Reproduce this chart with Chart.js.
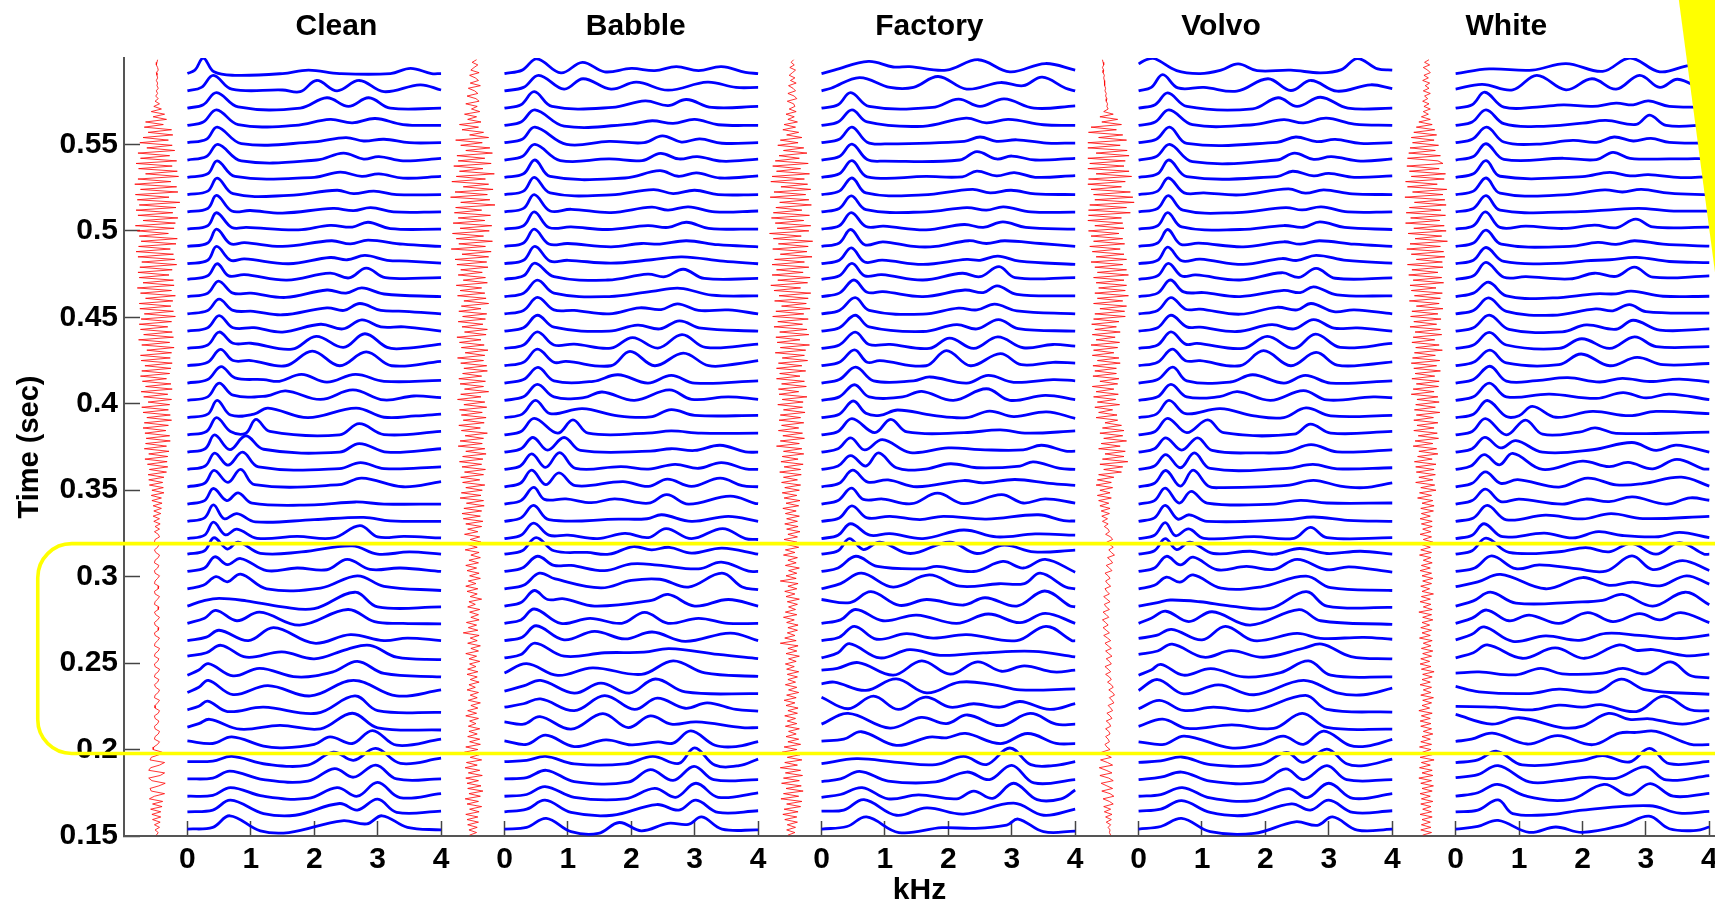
<!DOCTYPE html>
<html><head><meta charset="utf-8"><title>Formant tracks</title>
<style>html,body{margin:0;padding:0;background:#fff}canvas{display:block}</style>
<script src="https://cdn.jsdelivr.net/npm/chart.js@4"></script></head>
<body><canvas id="c" width="1715" height="903"></canvas>
<script>
const panelNames=['Clean','Babble','Factory','Volvo','White'];
const panelTitleAt=[2.35,7.07,11.7,16.3,20.8];
const panelZero=[0,5,10,15,20];
const waveCentre=[-0.48,4.51,9.53,14.51,19.54];
const kHzTicks=[0,1,2,3,4,5,6,7,8,9,10,11,12,13,14,15,16,17,18,19,20,21,22,23,24];
const timeTicks=[0.15,0.2,0.25,0.3,0.35,0.4,0.45,0.5,0.55];
// frame times, top row first (seconds)
const rowTimes=[.591,.581,.571,.561,.551,.541,.531,.521,.511,.501,.491,.481,.472,.462,.452,.442,.432,.422,.412,.402,.392,.382,.372,.362,.352,.342,.332,.322,.313,.303,.293,.283,.273,.263,.253,.243,.233,.223,.213,.203,.193,.183,.173,.164,.154];
// each row: frequency (x 10 Hz), spectrum height (ms of the time axis), repeated
const cleanRows=[
[0,0,12,2,25,9,42,1,75,-1,150,0,191,2,240,0,320,0,352,3,385,0,400,0],
[0,0,22,2,41,9,70,1,150,.5,178,-.5,204,6,236,0,271,6,310,-.5,367,3.5,400,.5],
[0,0,25,2,46,9,80,.7,178,0,220,6,254,1,286,6,320,0,400,0],
[0,0,25,2,46,9,80,.5,170,0,225,3.5,260,1.5,296,4,340,.5,400,0],
[0,0,30,2,47,9,85,-.5,200,.5,250,3,278,1,310,2,350,0,400,0],
[0,0,30,2,48,9,85,-.5,204,0,246,4,278,.5,302,2,340,-.5,400,1],
[0,0,32,2,47,9.5,75,.5,200,0,241,3,275,.5,302,2,340,-.5,400,.5],
[0,0,32,2,47,9.5,72,.5,160,-.5,236,2.5,262,.5,294,2,330,0,400,0],
[0,0,32,2,46,9.5,70,.5,99,.8,150,-.7,230,2,262,.7,289,2.5,325,0,400,0],
[0,0,32,2,46,9.5,70,1,93,1,175,-.4,225,2.2,260,1.2,285,4,320,.3,400,0],
[0,0,32,2,46,10,68,1.5,90,2.2,150,0,227,3.3,257,1.5,285,3.6,340,1.3,400,0],
[0,0,32,2,46,10,68,2,90,2.8,160,0,225,3.6,252,2.3,280,4.8,315,2,347,1.5,400,.3],
[0,0,32,2,47,9,65,2,90,2.7,157,-.5,225,3.6,255,.8,282,6.5,312,1,400,1],
[0,0,32,2,49,9,72,2,100,2,155,-.5,220,3.8,250,2,275,5,310,1.5,400,0],
[0,0,32,2,50,8.5,72,2,104,1.5,150,-.5,220,3.5,247,2,272,6,305,2,342,1.5,400,0],
[0,0,32,2,50,9,72,2,105,2,150,-.5,210,4,245,1.3,275,6.5,305,2.5,342,2.5,400,0],
[0,0,32,2,50,9.5,72,3,100,3,165,-.4,203,7,246,.6,280,8.5,315,.6,340,0,400,2.5],
[0,0,32,2,52,9.5,72,3,100,3,155,0,197,8.5,240,0,282,8,322,0,400,2.5],
[0,0,32,2,53,9.5,75,3,120,2,145,1,180,5,220,.5,265,5,310,1,400,1.5],
[0,0,32,2,50,10,72,3,125,2.5,155,5.5,210,.5,261,6,310,.2,357,2.5,400,1.5],
[0,0,32,2,47,10,68,1.5,105,2,127,5.5,190,0,266,5.5,310,.2,360,1,400,2],
[0,0,30,2,46,10,68,2,92,1,108,9,130,2,240,0,271,6.5,310,.2,400,2],
[0,0,28,2,43,10,67,1.5,92,9.5,120,1.7,240,0,271,5,315,0,400,2],
[0,0,28,2,43,9.5,64,2.5,87,10,112,1.5,240,.5,273,4,310,.5,400,1.5],
[0,0,27,2,42,9.5,64,2.5,84,10,106,1.2,240,1.2,275,5,340,0,400,3],
[0,0,27,2,41,9,62,2,80,6.5,102,.5,200,-.5,265,1.2,310,0,400,0],
[0,0,27,2,41,9.5,58,1.5,78,4.5,107,-.3,200,1,278,2.3,320,.3,400,0],
[0,0,27,2,41,9.5,60,2.2,78,5.5,110,.2,173,1.3,230,.4,272,7.5,300,1,342,1.3,400,.4],
[0,0,27,2,42,9.5,63,3,80,7,115,.5,180,1.3,260,4.8,300,0,350,1.3,400,0],
[0,0,27,2,43,8.5,63,4,84,7.5,125,.5,173,2,220,1,252,7,288,1.2,336,2,400,0],
[0,0,25,2,45,7,63,4,84,8.5,125,0,210,.4,268,7.5,310,1.4,400,-1],
[0,0,25,3,50,4.5,93,3,150,-.5,200,-1.5,264,8,300,-.5,400,-.5],
[0,0,27,3,45,7.5,78,1.5,114,6.5,177,-1,253,8,295,1,340,0,400,-.3],
[0,0,30,2,50,6,96,0,136,7.5,200,-1.5,257,3.5,310,0,347,1.5,400,0],
[0,1,30,3,53,7.3,93,.4,149,3.5,200,-.5,252,5,288,7.3,330,.4,400,-1],
[0,0,18,3,33,6.7,72,-.4,114,4,173,-1,230,2,268,8,310,1,400,-1],
[0,0,18,3,33,7,72,-1.2,127,4,194,-2,262,7,330,-2,400,1.5],
[0,0,18,2,32,5,63,-1,120,1.5,204,-2,264,8,300,-.5,400,-1.5],
[0,0,18,2,35,4.5,83,-1.2,146,1,210,-1,260,8,300,-.4,400,-1.7],
[0,2,40,.5,70,4.3,120,-1,150,-2,200,0,225,4.3,260,.5,292,8,330,-.5,400,3],
[0,0,40,.3,70,3,125,-1.5,190,-2,230,5.5,262,.8,297,7.7,336,-1,400,2],
[0,0,40,.5,67,4.5,120,-.4,190,-1.3,232,6,262,1,297,8,330,0,400,0],
[0,0,40,.5,68,5,120,0,190,-1.3,236,5,268,0,300,8,335,-.8,400,1.5],
[0,0,40,1,68,6.7,120,-1,170,-2,240,4.8,268,1,300,7.3,330,-.3,400,.4],
[0,0,40,1,67,7.7,115,-1,160,-2,244,4.8,283,3,307,7.7,347,1,400,-.5]];
const babbleRows=[
[0,0,28,2,51,8.5,89,.4,123,6.5,158,1,200,3,237,1.7,271,4,306,1.7,342,4,380,.7,400,0],
[0,0,30,2,54,9,94,1,124,7,168,1,208,5,258,.4,320,5,365,2,400,2],
[0,0,26,2,47,9.5,75,1,170,.4,222,4.2,258,1.5,287,5,327,.4,400,1],
[0,0,26,2,48,9,94,-.4,200,.8,233,2.7,266,1.2,300,3.5,337,.4,400,0],
[0,0,28,2,48,9,98,-1,165,.8,220,0,249,4,279,.4,308,2.2,343,-.3,400,0],
[0,0,28,2,48,9,88,-.3,165,.6,217,-.3,246,3.8,275,.6,304,2,343,-.7,400,.5],
[0,0,30,2,48,10,72,.5,190,-.4,245,3.8,274,.6,303,2.5,340,-.4,400,.8],
[0,0,30,2,47,10,72,1,168,-.2,235,2.9,266,.6,300,2.5,337,0,400,0],
[0,0,30,2,47,10,72,.5,105,1.5,168,-.4,232,2.7,258,1,290,2.9,332,0,400,.5],
[0,0,30,2,47,10,70,1,105,1.3,163,-.2,226,2,258,1,287,4,322,.5,400,0],
[0,0,30,2,47,10,70,1.4,100,1.7,168,-.2,216,1.7,245,1.4,287,3.3,337,1,400,-.2],
[0,0,30,2,48,10,72,1.5,100,2,168,.3,232,2.3,280,4,345,1.5,400,0],
[0,0,30,2,48,9.3,78,1.5,163,-.4,226,3,253,1.5,282,5.8,315,.5,400,.5],
[0,0,30,2,52,9.5,78,2,165,0,232,3,277,4.8,327,.8,400,.4],
[0,0,30,2,52,9.5,78,2.3,110,2,165,0,213,3.5,247,2.5,273,5.8,306,2,353,2.3,400,0],
[0,0,30,2,52,9.2,78,2.3,165,0,210,3.5,245,1.3,276,6,310,1.7,400,0],
[0,0,30,2,52,9.6,78,2,110,2.5,168,.2,202,6.3,242,.2,280,8,317,.6,400,2.5],
[0,0,30,2,52,9.6,78,2,97,2.5,168,0,198,8.3,237,0,282,7.3,322,0,365,1,400,3],
[0,0,30,2,53,9,78,1.3,140,1,179,4.8,226,0,263,4.4,300,0,400,1.3],
[0,0,30,2,52,9.2,78,2,125,1.5,154,4.8,205,0,260,6,295,.6,353,2,400,.6],
[0,0,28,2,49,10,72,2.3,123,5.2,179,1,230,.4,263,4.6,300,1.3,400,1.3],
[0,0,26,2,47,9.6,84,1,108,8.7,132,1,225,1,263,2.3,310,1,400,1],
[0,0,26,2,45,8.5,68,1.2,94,8.5,120,1,230,.6,263,2,300,1,340,4,380,.2,400,0],
[0,0,25,2,43,9,65,1.2,87,9.8,112,.7,184,1.7,227,.2,269,3,306,.7,342,4,380,.4,400,0],
[0,0,25,2,43,9.6,65,1.2,86,8,112,.6,187,3,227,.2,257,4.4,295,.2,340,5,375,.6,400,0],
[0,0,26,2,46,9.6,63,2.7,97,3,137,.8,174,3,227,.5,256,5.4,290,0,356,4.6,395,.4,400,.2],
[0,0,26,2,46,9.2,70,1,180,1.3,225,1.5,248,3.8,295,0,353,2.9,400,0],
[0,0,26,2,46,9,70,2,100,2,147,0,190,3,227,.6,255,5.8,295,0,344,5.8,380,0,400,-.5],
[0,0,28,2,50,9.6,78,2,130,1,165,0,203,4.4,232,2.5,260,4,295,.6,343,3.5,400,0],
[0,0,28,2,52,8.8,78,3.5,105,3.5,158,.5,200,4.4,242,3.7,306,1.5,342,5.4,385,.2,400,0],
[0,0,30,2,55,9,80,5.7,152,.5,200,4.8,245,5.5,290,1,343,9,375,1,400,-.5],
[0,0,26,2,47,9,68,3.8,94,4.2,142,0,232,3.3,258,6.7,300,0,353,3.8,400,0],
[0,0,26,2,47,8.3,89,0,135,2.9,185,0,221,6.3,258,0,306,2.9,353,0,400,0],
[0,0,28,2,50,8.6,94,.5,142,5.4,190,1,233,5,285,-.4,356,4.4,400,0],
[0,0,26,2,48,8.6,94,1,158,3,220,3.3,260,5.4,337,2,400,-.4],
[0,1.3,35,6.7,84,-.1,139,4.3,216,.5,266,8.3,316,1.3,400,-.7],
[0,.8,30,3.8,57,7,110,-.4,152,5.4,197,-.4,238,7.8,285,.3,400,-.7],
[0,1.5,30,3.5,57,6.3,110,-.5,158,8.2,205,.2,241,6.7,285,.9,320,4,365,.2,400,-.8],
[0,3,30,1.7,56,6,105,-1.2,155,7.8,195,-.3,230,6.5,263,1.7,303,3,375,-.3,400,-.3],
[0,2,35,0,65,5.3,110,-1.3,160,2.6,200,-.3,242,1.4,266,.7,294,7.8,332,-.5,365,-1.3,400,1.6],
[0,0,35,.8,65,3,110,-1.3,190,-1.3,234,3,275,-1,300,8,332,-2,370,-2.3,400,1.5],
[0,0,35,.8,66,5,110,-1.5,195,-1.9,230,5.4,266,-.8,299,7.3,330,-.4,400,-.4],
[0,0,35,1,64,5.6,110,-.6,190,-1.5,237,4.6,270,-.6,302,7.5,337,-.6,400,2],
[0,0,35,1.5,64,6.7,105,-.4,170,-2,240,4.2,275,1,302,6.7,337,-.4,400,.6],
[0,0,35,1,66,6.2,105,-1.5,148,-2.5,181,3.8,216,-1,258,3.3,290,2.7,311,7,343,0,400,-.5]];
const factoryRows=[
[0,0,20,2,74,7,113,3.8,139,4,197,2,247,8,297,1,353,5.8,400,2],
[0,0,15,1.5,60,7.7,108,2,145,2,184,8.3,229,1,282,4.8,318,3,348,7.9,385,1.5,400,0],
[0,0,26,2,46,9,75,1,175,.4,216,5.2,250,1,288,5.4,335,0,400,1.3],
[0,0,26,2,48,9,72,2,160,-.5,228,4.2,260,1.5,295,3.5,350,.4,400,0],
[0,0,28,2,48,9,72,.3,100,-.7,225,.8,250,3.3,276,.8,308,1.7,355,-.2,400,-.2],
[0,0,28,2,48,9.2,72,.3,100,-.6,218,0,245,4.8,276,.6,300,2.3,337,0,400,1],
[0,0,28,2,48,9.6,72,.3,165,.5,222,.3,245,3.6,276,.8,304,2.7,337,0,400,1],
[0,0,28,2,48,9.6,70,1,160,-.2,238,3,266,1,299,2.5,337,.4,400,0],
[0,0,28,2,47,9.2,70,1.3,165,0,229,2.5,260,1,287,2.9,330,0,400,-.2],
[0,0,28,2,47,9.6,70,1.5,98,1.7,165,-.4,225,2.7,255,1,286,4.2,322,1,400,0],
[0,0,28,2,46,9.8,68,1,97,2.7,145,0,180,0,232,3.3,260,1.7,289,3.3,345,1.7,400,0],
[0,0,28,2,47,9.2,68,1,96,2.1,160,-.4,229,2.5,250,2,278,4.4,312,1.5,400,-.4],
[0,0,28,2,48,9.2,68,2,95,2.7,160,-.4,222,3.5,250,1.5,280,7.3,305,1,400,1],
[0,0,28,2,51,9.6,72,2.5,97,2.9,160,0,226,3.8,255,2.3,277,6.2,308,1.3,400,.4],
[0,0,28,2,53,9.4,75,2,160,-.2,216,3.3,245,2.3,273,5.6,308,1.7,400,0],
[0,0,28,2,53,9.2,75,2.5,160,-.2,213,3.8,245,1.3,279,6.7,310,1.5,400,0],
[0,0,28,2,53,9.4,75,2.3,108,2.3,170,0,202,6,240,0,278,6.7,318,.4,365,2.3,400,1.3],
[0,0,28,2,52,9.2,72,2,92,3,165,0,197,8.8,235,0,282,7,315,.6,365,2,400,1.5],
[0,0,28,2,54,9.2,82,1.3,145,1.3,171,3.5,229,0,263,4.4,303,.4,365,2,400,1.3],
[0,0,28,2,52,9,75,2,128,2,158,5.2,208,0,260,6.7,297,0,353,2.9,400,.4],
[0,0,28,2,50,9.6,70,2.5,92,1.3,120,4.4,176,1.3,229,0,265,3.8,303,.6,355,3.3,400,-.4],
[0,0,26,2,48,9.4,84,1.3,109,9,135,1.7,225,1.3,282,2.9,325,1,400,2.3],
[0,0,26,2,46,8.3,68,1.3,96,7.3,140,-.2,200,2.5,250,1.5,318,1.3,347,4,385,.6,400,.6],
[0,0,26,2,46,8,70,2,90,9.6,118,1,160,0,203,3.3,245,1,313,2,334,4.4,376,.6,400,0],
[0,0,28,2,49,9.6,73,2.7,105,4,150,0,224,3.6,255,2.3,305,4.2,360,2,400,.8],
[0,0,26,2,47,9.2,66,2.7,97,2.9,142,.2,183,6.3,224,.2,284,5.4,318,.6,353,3,400,.6],
[0,0,28,2,48,9,72,2,108,2.9,155,1,192,2.9,260,1.3,342,3.8,382,.4,400,.2],
[0,0,26,2,46,8.6,76,2,108,2.9,160,0,224,5,276,1,337,2.7,400,2],
[0,0,26,2,44,9,66,2.7,92,7,140,.4,202,7,245,.4,288,5.2,335,1.3,400,2.3],
[0,0,26,2,54,8.8,88,2.9,160,1.5,182,3,240,0,286,5.8,318,2,353,7,400,-.4],
[0,0,30,3,63,9,113,1,170,8,218,1.5,280,2.9,320,3,345,9,385,1,400,0],
[0,3.8,45,2,78,8.3,123,.4,166,3.8,224,.6,258,4.8,308,0,352,8.7,392,0,400,-.4],
[0,0,30,2,54,8,97,1.5,150,4.8,213,0,263,5.4,313,.4,353,5.8,400,0],
[0,0,28,2,52,8.3,87,.8,134,4,176,1.5,229,3.5,308,0,354,8.3,395,0,400,0],
[0,0,26,3,44,8.3,92,0,139,4.8,187,1.5,255,2.9,334,3.8,400,.6],
[0,2.9,25,4,58,7.3,113,0,158,8.3,203,.6,246,7.7,284,2.3,320,5.4,366,1.9,400,2.9],
[0,5,20,6,70,1.2,118,7.9,166,-.2,218,6,270,4.6,313,1.5,400,2.1],
[0,7.3,42,.6,82,7.9,121,.2,164,7.3,203,1.5,240,3.5,282,1.5,313,4.8,360,.2,400,3.5],
[0,1.7,42,7.9,108,-.6,157,5.6,197,2,230,7,282,.8,329,7.9,370,1.7,400,1.7],
[0,1.9,35,3,63,7.3,118,-.6,170,4.2,197,3.8,227,6.3,282,.4,325,6.3,370,.6,400,.4],
[0,-1.2,55,1.7,120,-.4,180,-1.7,224,3,260,-1.7,297,7.9,330,-1.7,365,-2.3,400,0],
[0,-1.5,30,0,60,4.4,105,-1.2,180,-1.7,229,4,265,-.4,300,7.9,335,-2.3,400,-.4],
[0,-.6,30,1,64,5,105,-1.5,153,.8,213,-1.5,240,3,270,-1.2,303,7.5,340,-2,378,-1.5,400,3.6],
[0,.4,35,1,67,7,118,-2,166,2.3,224,-1.3,303,5,350,-2,400,1.5],
[0,0,40,1.5,71,7,122,-2,190,.8,240,.4,292,2.3,310,5.8,350,-1.5,400,-1.2]];
const volvoRows=[
[0,5.6,12,8,25,8.7,60,1.7,97,0,130,2,157,5.6,187,1.7,240,2,287,.4,320,2.3,345,8.7,377,2.7,400,2],
[0,0,20,2,38,9.4,62,1.7,103,2,155,-.2,204,7,240,.2,272,6,313,-.2,366,3.5,400,1.3],
[0,0,26,2,46,8.8,76,1,180,-.4,220,6,250,1,287,6.3,330,0,400,0],
[0,0,26,2,48,9,85,.4,180,.4,229,3.3,260,1.5,296,4.2,340,.8,400,0],
[0,0,28,2,49,9,76,-.4,218,.2,248,3.3,281,.6,310,1.9,350,-.4,400,0],
[0,0,28,2,49,9,85,-1,218,0,246,4,276,.4,304,1.9,350,-.6,400,.6],
[0,0,30,2,48,10,76,.4,218,.4,243,3.5,276,.8,300,2.3,340,0,400,.8],
[0,0,30,2,47,9.6,72,1,103,1,160,-.2,236,3.3,263,.8,292,2.7,337,.4,400,0],
[0,0,30,2,47,9.4,70,1,155,-.4,232,2.5,258,1.1,288,2.9,330,0,400,0],
[0,0,30,2,46,9.6,68,1.3,160,-.2,229,2.1,260,1.1,286,4.2,325,1,400,-.2],
[0,0,30,2,46,9.8,66,1.3,95,1.9,165,-.2,229,2.7,255,1.3,285,3.3,340,1.3,400,0],
[0,0,30,2,46,9.6,68,1.7,97,2.7,165,-.4,226,3,250,1.9,280,4.8,328,1.9,400,.4],
[0,0,30,2,47,9.2,68,1.9,90,2.5,160,-.4,226,3.8,253,1.1,280,6.3,310,.6,400,.8],
[0,0,30,2,50,9.6,71,2.7,103,2.3,160,0,229,3.6,255,2.3,276,5.6,313,1,400,.4],
[0,0,30,2,51,9.4,74,2.7,97,2.7,160,-.2,218,3.8,250,2.3,272,6,308,1.3,340,2.3,400,0],
[0,0,30,2,51,9.2,76,2.5,97,2.3,155,-.2,210,3.8,245,1.3,276,6.7,308,1.7,345,1.9,400,0],
[0,0,30,2,51,9.6,74,2.5,92,2.9,165,0,203,7,245,0,279,8.3,318,.6,400,2.9],
[0,0,30,2,53,9.6,74,2.9,97,2.9,160,0,197,8.7,240,0,280,7.7,313,.4,370,1,400,2.3],
[0,0,30,2,54,9.2,76,1.3,145,.6,180,4.8,229,0,263,4.4,303,0,400,1.3],
[0,0,30,2,51,9.2,76,2,128,2.1,156,5,208,0,260,5.6,297,.2,370,2,400,1.5],
[0,0,28,2,48,10,74,2.3,129,5.2,182,1,229,0,264,5.6,303,1,400,1.3],
[0,0,26,2,46,9.6,76,1.3,109,8.7,134,1.3,245,.4,271,6.2,303,1,400,2],
[0,0,25,2,43,8.3,68,1.2,93,8.3,116,1,192,-.4,234,.2,272,4.4,313,.2,400,1.3],
[0,0,25,2,43,8.6,66,1,88,9.6,113,.6,234,.6,275,2.9,313,.4,400,1],
[0,0,25,2,43,9.4,66,.4,86,9.6,110,.4,130,-.5,234,.8,276,3.7,318,.4,355,-.5,400,2.3],
[0,0,25,2,42,9.2,64,.6,83,7.3,108,.6,213,0,255,2.1,297,.6,400,.6],
[0,0,25,2,42,9.2,62,1.3,80,3.8,108,0,234,1,276,2.5,330,.6,400,0],
[0,0,25,2,42,9.2,58,1.7,79,5.6,103,.2,182,1.2,245,.2,271,6.5,297,.6,400,.6],
[0,0,25,2,42,9,60,2.7,81,7,118,.4,176,1.7,213,0,254,3.3,297,.4,350,1.7,400,0],
[0,0,25,2,44,8.8,66,3.8,86,8.3,124,1,170,2.9,213,1.2,250,7,297,1,332,2.7,400,-.4],
[0,0,25,2,44,6.7,65,3.8,86,8,130,.4,192,1,264,7.3,303,.6,400,-1],
[0,0,30,2,50,3.5,97,2.5,145,0,208,-1.3,264,8.3,297,0,400,-.8],
[0,0,20,3,43,7,79,1,116,6.7,176,-1,253,7.9,287,1.5,400,-.6],
[0,1.3,28,3,52,6.5,100,.4,137,8.3,182,0,250,4.2,287,1.3,355,1.9,400,.8],
[0,2.1,30,4,53,8,103,.4,146,4.2,197,.4,260,5.6,289,8,335,.8,400,-.6],
[0,0,20,3,35,6.3,71,0,114,3.8,166,-1,224,1.5,268,8.3,303,0,400,-1],
[0,1.2,30,7.5,71,-.8,126,4.4,182,-1.3,260,7,313,-.2,355,-1.3,400,2.5],
[0,.6,33,5.4,71,-.4,118,1.5,182,-.4,263,8.3,297,.2,400,-1.3],
[0,.4,38,4.6,77,-.8,147,1.3,213,-.8,258,7.9,297,-.2,400,-1.2],
[0,1.5,40,0,72,4.8,145,-2,192,0,228,4.8,260,0,292,7.7,333,-.6,360,-1,400,2.9],
[0,-.4,35,.4,68,2.7,113,-1.7,192,-1.7,233,5.4,260,-.4,297,7.3,328,-1.2,355,-2.3,400,1.5],
[0,-.4,35,1,68,4,113,-1.3,192,-1.9,232,5.8,260,-.4,297,7.7,328,-.4,400,-.4],
[0,0,35,1,69,5,113,-1,182,-2.5,236,4.4,266,-.8,300,7.5,338,-1.2,400,1.5],
[0,.4,35,1.5,68,6.5,113,-.4,171,-2,241,4.6,271,1,300,6.7,338,-.4,400,.6],
[0,0,35,1.5,68,6.2,113,-1.5,182,-2.5,247,4.2,282,2.2,306,7,345,-.6,400,0]];
const whiteRows=[
[0,0,53,2.7,121,2,174,5.8,232,1.3,275,9,322,1,369,4.6,400,3],
[0,1,42,3.8,90,.6,128,9,174,.6,215,7,253,1,290,9,322,2,350,6.7,390,.6,400,0],
[0,0,26,2,46,9.2,76,.6,128,.6,170,1.9,216,1,253,2.9,280,1.9,304,4.2,337,1,400,.6],
[0,0,26,2,48,9,76,1,128,-.6,200,1.3,237,2.9,285,.6,306,6,332,0,400,.4],
[0,0,26,2,49,9,76,.4,128,-.8,185,1.3,222,.2,250,3.3,280,1,308,2.5,337,.2,400,-.2],
[0,0,28,2,48,9.4,76,.4,170,1,222,.2,248,4.4,275,1,337,.6,400,1],
[0,0,28,2,48,9.6,70,.6,200,.4,243,2.9,275,.8,304,1.5,355,-.2,400,.4],
[0,0,28,2,48,9.6,70,.8,170,-.2,235,2.7,263,1.5,293,3,337,.8,400,-.2],
[0,0,28,2,48,9.4,70,1,180,0,237,1,275,1.9,300,1.9,337,.6,400,.4],
[0,0,28,2,47,10,70,1,111,1.7,170,.4,219,2.3,253,.8,284,5.8,311,1.3,400,1.2],
[0,0,28,2,48,9.4,72,1.3,180,0,224,2.3,253,1.2,282,3.3,327,1.3,400,.2],
[0,0,28,2,48,9.4,76,1.3,170,.4,205,1.7,243,2.3,285,3.7,337,1.3,400,.6],
[0,0,28,2,48,9.8,76,1.2,111,1.5,180,.2,219,3.5,253,1.7,282,7,311,1.2,400,2],
[0,0,28,2,52,8.3,80,.4,153,-.8,221,1.6,253,1.6,277,3.2,327,.2,400,.2],
[0,0,28,2,52,9.2,80,1.4,153,-.8,221,2.9,248,1.8,274,5.4,300,1.3,400,.4],
[0,0,28,2,53,9.3,84,1.1,168,-.4,206,3.6,253,1.1,280,6.3,322,.6,400,1.3],
[0,0,28,2,53,9.3,80,2,163,0,199,5.6,243,0,282,6.7,316,1.1,400,1.1],
[0,0,28,2,54,9,80,1.6,163,.6,198,6.8,243,0,286,4.8,327,.6,400,1.3],
[0,0,28,2,54,9.7,80,1.1,128,1.4,177,3.1,227,.6,263,2.7,306,.9,353,2.3,400,.6],
[0,0,28,2,53,9.9,80,2,148,3.6,222,1.1,264,4.5,300,1.4,337,3.6,400,.4],
[0,0,28,2,50,9.9,80,.6,100,1.1,121,6.5,158,.2,216,3.6,274,1.1,316,3.6,400,2.3],
[0,0,26,2,47,9.4,80,0,110,8.6,137,.4,195,1.6,220,4.1,253,.9,400,1.6],
[0,0,26,2,46,8.6,71,2.5,95,6.7,137,0,216,1.4,278,5.6,316,1.1,348,4.1,400,0],
[0,0,24,2,45,8.6,69,2.7,90,9.3,137,0,200,4.8,242,1.6,272,4.1,311,.4,349,5.8,390,.4,400,.2],
[0,0,26,2,47,8.6,71,2,98,4.1,163,-.2,208,5,253,1.1,295,1.8,356,5.6,400,.4],
[0,0,26,2,47,8.6,71,1.4,100,2.9,168,0,205,2.9,242,1.4,279,4.1,332,0,370,3.6,400,2.2],
[0,0,28,2,50,9.2,80,.9,142,3.6,200,1.4,245,4.5,295,1.6,400,2.9],
[0,0,26,2,45,8.6,74,1.1,140,3.2,185,.4,225,4,263,1.8,320,1.1,353,3.6,400,.6],
[0,0,26,2,48,9.3,84,1.1,163,1.4,205,3.8,242,1.4,277,6.3,316,0,353,6.7,392,0,400,0],
[0,0,30,2,57,9,95,1.6,132,3.8,190,1.6,237,.2,278,9,311,1.1,358,6.3,400,.6],
[0,1.2,35,4,71,8.3,142,0,200,6.5,242,2,279,3.8,322,1.7,364,7.5,400,2.7],
[0,0,28,3,55,8,95,1.7,190,2.3,232,3.3,263,6.7,311,0,362,8,400,.8],
[0,0,26,3,49,7.7,84,1.5,116,4.8,163,0,208,6.2,248,1,290,5.6,322,2,355,6.2,400,.4],
[0,.4,25,3.5,45,7.9,90,-.4,142,2.7,195,.2,237,4.2,290,3,348,1.2,400,3.3],
[0,0,28,3,50,7.5,105,-.2,157,5.8,203,-.2,258,7.5,285,4.4,311,4.8,364,1.2,400,2.3],
[0,1.2,37,1.9,95,.2,134,4,168,.8,232,1.2,264,4,300,.8,339,7.7,370,-.2,400,-1.5],
[0,3.5,37,.4,116,-.6,163,1.9,222,.4,261,7.7,300,1.5,400,-1],
[0,2,63,1.5,121,0,163,2.7,200,1.5,229,3,285,-1,328,7.9,370,0,400,-.6],
[0,7.3,57,1.7,100,5.4,169,-.4,200,.6,241,7.9,274,4.4,306,4.8,358,1.7,400,5.2],
[0,1.7,25,3,58,6.5,113,.2,161,5,216,-.2,258,6.5,285,6.9,316,7.5,369,.2,400,-.2],
[0,-.6,35,1,65,6,105,-1.9,200,.8,232,3.5,274,-.2,306,7.7,337,-1.2,400,.2],
[0,.8,35,2.5,67,7.7,116,-1.7,163,-1,211,1,253,.4,299,7,332,-.6,400,1.9],
[0,0,35,2,66,6.9,112,0,180,-2,234,6.9,274,.6,307,7.3,343,0,400,1.7],
[0,0,35,1,67,6.9,90,-1,153,-1.5,200,1,306,3.5,353,-.8,400,.2],
[0,0,35,1.5,67,5,116,-1.9,158,1.2,200,-1.9,264,2.3,305,7.5,337,.2,380,-.8,400,1.2]];
// time-domain waveform, one sample every 1.5 ms from 0.599 s down (x 10 Hz on the axis)
const cleanWave=[
1,0,-1,1,2,-1,0,1,-1,1,0,2,-1,1,-2,2,-3,4,-5,7,
-9,12,-6,15,-18,10,-20,23,-14,25,-22,18,-27,24,-16,28,-30,20,-26,31,
-33,24,-29,32,-18,34,-30,22,-35,31,-26,33,-34,19,-31,36,-28,30,-33,25,
-30,33,-22,29,-34,27,-31,18,-28,32,-25,30,-29,21,-33,26,-30,28,-24,31,
-27,24,-30,19,-28,26,-22,27,-31,23,-26,29,-18,25,-28,22,-27,26,-20,29,
-25,23,-28,17,-26,24,-21,26,-29,20,-24,27,-16,23,-26,21,-25,24,-19,22,
-24,20,-26,15,-23,22,-18,24,-25,17,-21,23,-14,20,-24,18,-22,21,-16,23,
-20,18,-22,14,-19,20,-17,21,-18,15,-20,19,-13,17,-19,16,-15,17,-12,15,
-14,11,-13,9,-12,10,-8,11,-9,7,-8,8,-6,7,-5,6,-6,4,-5,5,
-3,4,-4,2,4,-3,-4,3,1,-4,-2,4,2,-3,-4,3,1,-4,-3,4,
1,-3,-4,3,2,-4,-3,4,1,-3,-4,3,2,-4,-2,4,1,-4,-3,3,
2,-4,-3,4,1,-3,-4,4,2,-3,-4,3,1,-4,-3,4,2,-3,-4,3,
1,-4,-2,4,2,-3,-4,4,1,-3,-3,4,2,-4,-3,3,1,-4,-3,4,
2,-3,-4,4,1,-5,-6,8,3,-9,-11,12,4,-10,-13,12,5,-13,-8,13,
3,-11,-9,12,-4,-12,9,-7,8,-10,6,-8,6,-7,5,-4,4,-3,2,-1];
const babbleWave=[
5,-2,7,1,-4,9,-6,3,8,-5,11,-8,2,7,-10,4,9,-12,6,-3,
10,-14,5,-9,12,-22,8,-18,16,-6,24,-28,14,-20,26,-12,30,-26,18,-24,
28,-31,15,-22,33,-27,19,-34,24,-16,31,-29,22,-36,26,-20,34,-28,13,-30,
27,-24,18,-32,29,-21,25,-33,16,-27,30,-23,19,-35,28,-18,24,-29,21,-26,
23,-20,14,-24,19,-16,22,-27,13,-21,18,-25,20,-15,24,-19,12,-23,21,-17,
19,-24,15,-18,22,-14,20,-26,12,-22,17,-19,23,-13,18,-25,16,-20,21,-15,
22,-17,13,-23,19,-21,16,-14,24,-20,12,-25,18,-15,21,-22,14,-19,20,-16,
17,-23,11,-19,22,-13,16,-21,14,-24,18,-12,20,-17,15,-22,13,-18,19,-14,
16,-20,10,-17,18,-12,14,-19,12,-21,16,-11,17,-15,13,-18,11,-16,15,-12,
13,-9,7,-14,10,-5,12,-8,6,-13,9,-4,11,-7,8,-12,5,-10,9,-6,
11,-8,4,-12,7,-10,6,-5,13,-7,3,-9,10,-6,8,-4,9,-11,5,-8,
7,-16,9,-5,6,-9,11,-4,8,-12,5,-7,10,-6,4,-9,7,-10,6,-5,
9,-7,3,-10,8,-5,6,-8,11,-4,7,-9,5,-12,8,-6,4,-8,10,-7,
6,-9,10,-6,11,-12,7,-14,9,-5,13,-11,6,-13,10,-8,14,-12,8,-10,
12,-9,15,-7,11,-13,8,-10,13,-6,9,-12,7,-10,8,-9,6,-7,5,-6];
const factoryWave=[
3,-1,4,-3,6,1,-4,5,-2,7,-5,2,6,-6,4,8,-7,3,5,-4,
7,-9,4,-6,9,-12,6,-14,11,-8,16,-18,10,-22,19,-13,24,-20,12,-26,
26,-30,14,-24,28,-31,20,-33,25,-17,30,-28,22,-34,27,-19,31,-25,16,-29,
28,-32,19,-26,30,-23,27,-35,15,-29,33,-21,26,-30,24,-18,32,-27,20,-31,
27,-24,18,-31,29,-22,25,-33,14,-28,30,-20,26,-27,23,-16,29,-25,19,-30,
26,-22,17,-28,24,-19,27,-25,13,-23,28,-18,22,-26,20,-15,25,-21,16,-24,
22,-19,13,-24,20,-16,23,-21,11,-20,24,-15,18,-22,17,-13,21,-18,14,-20,
19,-16,11,-21,17,-14,20,-18,12,-24,16,-13,19,-15,10,-17,18,-12,14,-19,
15,-13,9,-16,14,-11,12,-15,8,-12,13,-9,11,-14,7,-10,12,-8,9,-11,
10,-8,13,-6,9,-12,8,-7,11,-10,5,-13,9,-6,7,-10,12,-5,8,-9,
7,-18,10,-6,8,-11,5,-9,12,-7,9,-5,6,-10,8,-13,4,-8,10,-6,
9,-7,5,-11,7,-18,10,-6,8,-9,12,-5,7,-10,4,-8,11,-7,9,-6,
6,-10,8,-5,11,-8,7,-12,5,-9,10,-6,9,-11,6,-7,8,-10,12,-5,
7,-9,11,-6,14,-12,8,-15,13,-7,16,-11,9,-18,14,-10,17,-13,12,-16,
15,-9,18,-13,11,-17,16,-8,14,-12,10,-14,8,-11,9,-7,6,-8,5,-6];
const volvoWave=[
-8,-7,-6,-8,-6,-7,-5,-6,-5,-4,-5,-3,-4,-2,-3,-1,-2,0,-1,1,
-6,9,-12,16,-9,22,-26,14,-30,24,-14,30,-31,20,-31,31,-18,34,-31,28,
-28,26,-31,34,-18,38,-30,28,-31,22,-26,36,-22,40,-20,42,-28,30,-30,36,
-30,22,-31,24,-20,26,-30,18,-26,24,-22,27,-28,20,-24,26,-18,30,-26,24,
-20,30,-16,33,-22,26,-18,30,-14,28,-20,33,-16,24,-22,30,-12,27,-20,28,
-22,18,-25,14,-20,20,-24,12,-18,19,-26,16,-22,10,-24,18,-16,20,-23,14,
-20,14,-23,18,-12,16,-24,10,-18,17,-22,13,-16,19,-20,8,-14,15,-18,16,
-4,22,-8,26,-12,24,-6,30,-10,20,-14,28,-4,26,-8,32,-12,24,-6,22,
-14,10,-16,6,-18,8,-12,4,-16,6,-14,2,-12,4,-10,3,-9,0,-8,1,
-5,1,3,-3,5,8,-1,4,9,2,6,11,0,5,8,-2,3,7,-4,1,
4,-3,0,5,-4,-1,3,-6,-1,4,-5,-2,3,-7,-2,2,-8,-3,1,-7,
-2,3,-6,0,5,-4,1,6,-3,2,7,-2,3,6,-4,1,5,-3,3,6,
0,6,9,2,8,11,3,7,10,1,5,8,-1,4,7,-2,3,5,-3,2,
4,-3,1,3,-4,-1,4,-9,-3,6,-11,0,8,-13,-2,7,-12,2,9,-10,
-1,8,-9,4,10,-7,3,9,-6,5,-5,7,-3,6,-2,5,1,4,3,5];
const whiteWave=[
4,-3,5,-5,2,6,-4,3,-6,5,-2,4,-5,6,-3,2,-6,4,-4,6,
-5,3,-8,6,-12,9,-16,13,-20,16,-24,12,-22,19,-26,14,-28,22,-30,18,
26,-31,20,-27,30,-24,28,-33,17,-30,32,-22,26,-34,29,-19,31,-27,23,-32,
30,-25,21,-33,28,-20,31,-29,24,-18,33,-26,22,-31,27,-24,29,-16,25,-30,
26,-23,18,-28,24,-21,27,-26,15,-24,25,-19,22,-27,20,-16,26,-23,18,-25,
23,-20,16,-26,22,-18,24,-21,13,-23,20,-17,25,-19,14,-22,21,-24,16,-20,
22,-18,13,-23,20,-16,19,-21,12,-24,18,-15,20,-17,14,-19,21,-16,11,-20,
18,-15,12,-20,17,-13,19,-18,10,-21,16,-12,18,-14,9,-19,15,-17,12,-16,
14,-12,10,-17,13,-9,15,-11,8,-14,10,-7,12,-9,11,-8,6,-10,9,-8,
9,-6,7,-10,8,-5,10,-7,6,-9,8,-11,7,-5,9,-8,6,-10,8,-7,
10,-6,8,-9,5,-7,11,-8,6,-10,7,-5,9,-12,8,-6,10,-7,5,-9,
8,-7,6,-11,9,-5,7,-8,10,-6,8,-9,5,-10,7,-8,12,-6,9,-7,
6,-10,8,-5,7,-9,11,-6,8,-7,5,-12,9,-8,6,-10,7,-9,8,-5,
10,-7,6,-9,8,-11,7,-6,9,-10,12,-8,6,-11,9,-7,10,-12,8,-9,
11,-7,9,-10,6,-8,10,-9,7,-6,8,-10,9,-7,6,-8,7,-9,8,-6];
// annotation shapes, in axis units
const highlightBox={left:-2.36,right:25,top:0.3191,bottom:0.1977};
const cornerWedge=[[23.52,0.6335],[24.1,0.4733],[24.1,0.6335]];

const allRows=[cleanRows,babbleRows,factoryRows,volvoRows,whiteRows];
const allWaves=[cleanWave,babbleWave,factoryWave,volvoWave,whiteWave];
const datasets=[];
allWaves.forEach((wave,p)=>{
  datasets.push({data:wave.map((v,k)=>({x:waveCentre[p]+v/100,y:0.599-0.0015*k})),
    borderColor:'#ff0000',borderWidth:0.8,pointRadius:0,tension:0,indexAxis:'y',parsing:false,order:2});
});
allRows.forEach((rows,p)=>{
  rows.forEach((row,r)=>{
    const pts=[];
    for(let i=0;i<row.length;i+=2) pts.push({x:panelZero[p]+row[i]/100,y:rowTimes[r]+row[i+1]/1000});
    datasets.push({data:pts,borderColor:'#0000ff',borderWidth:2.8,pointRadius:0,tension:0.38,borderJoinStyle:'round',parsing:false,order:1});
  });
});
const fontBold={family:"'Liberation Sans',Arial,sans-serif",weight:'bold',size:30};
const fontTitle={family:"'Liberation Sans',Arial,sans-serif",weight:'bold',size:30,lineHeight:1};
const noPad=s=>{s.paddingLeft=0;s.paddingRight=0;s.paddingTop=0;s.paddingBottom=0;};
const overlay={id:'overlay',afterDraw(chart){
  const {ctx,scales:{x,y}}=chart;
  ctx.save();
  ctx.strokeStyle='#ffff00';ctx.lineWidth=3.6;
  const L=x.getPixelForValue(highlightBox.left),R=x.getPixelForValue(highlightBox.right),
        T=y.getPixelForValue(highlightBox.top),B=y.getPixelForValue(highlightBox.bottom);
  ctx.beginPath();ctx.roundRect(L,T,R-L,B-T,34);ctx.stroke();
  ctx.fillStyle='#ffff00';ctx.beginPath();
  cornerWedge.forEach((c,i)=>{const px=x.getPixelForValue(c[0]),py=y.getPixelForValue(c[1]);i?ctx.lineTo(px,py):ctx.moveTo(px,py);});
  ctx.closePath();ctx.fill();
  ctx.restore();
}};
new Chart(document.getElementById('c'),{
  type:'line',
  data:{datasets},
  plugins:[overlay],
  options:{
    responsive:false,animation:false,events:[],
    layout:{padding:0},
    plugins:{legend:{display:false},tooltip:{enabled:false},title:{display:false}},
    scales:{
      x:{type:'linear',position:'bottom',min:-1,max:24.09,
        afterBuildTicks:s=>{s.ticks=kHzTicks.map(v=>({value:v}));},
        afterFit:s=>{s.height=67;noPad(s);},
        border:{color:'#555',width:2},
        grid:{drawOnChartArea:false,tickLength:-15,tickColor:'#444',tickWidth:1.5},
        ticks:{autoSkip:false,maxRotation:0,padding:21,color:'#000',font:fontBold,callback:v=>String(v%5)},
        title:{display:true,text:'kHz',color:'#000',font:fontTitle,padding:{top:0,bottom:-3}}},
      top:{type:'linear',position:'top',min:-1,max:24.09,
        afterBuildTicks:s=>{s.ticks=panelTitleAt.map(v=>({value:v}));},
        afterFit:s=>{s.height=58;noPad(s);},
        border:{display:false},grid:{display:false},
        ticks:{autoSkip:false,maxRotation:0,padding:5,color:'#000',font:fontBold,callback:(v,i)=>panelNames[i]}},
      y:{type:'linear',position:'left',min:0.15,max:0.6,
        afterBuildTicks:s=>{s.ticks=timeTicks.map(v=>({value:v}));},
        afterFit:s=>{s.width=124;noPad(s);},
        border:{color:'#555',width:2},
        grid:{drawOnChartArea:false,tickLength:-16,tickColor:'#444',tickWidth:1.5},
        ticks:{autoSkip:false,padding:22,color:'#000',font:fontBold,callback:v=>String(+v.toFixed(2))},
        title:{display:true,text:'Time (sec)',color:'#000',font:{family:"'Liberation Sans',Arial,sans-serif",weight:'bold',size:29},padding:{top:13,bottom:0}}}
    }
  }
});
</script></body></html>
